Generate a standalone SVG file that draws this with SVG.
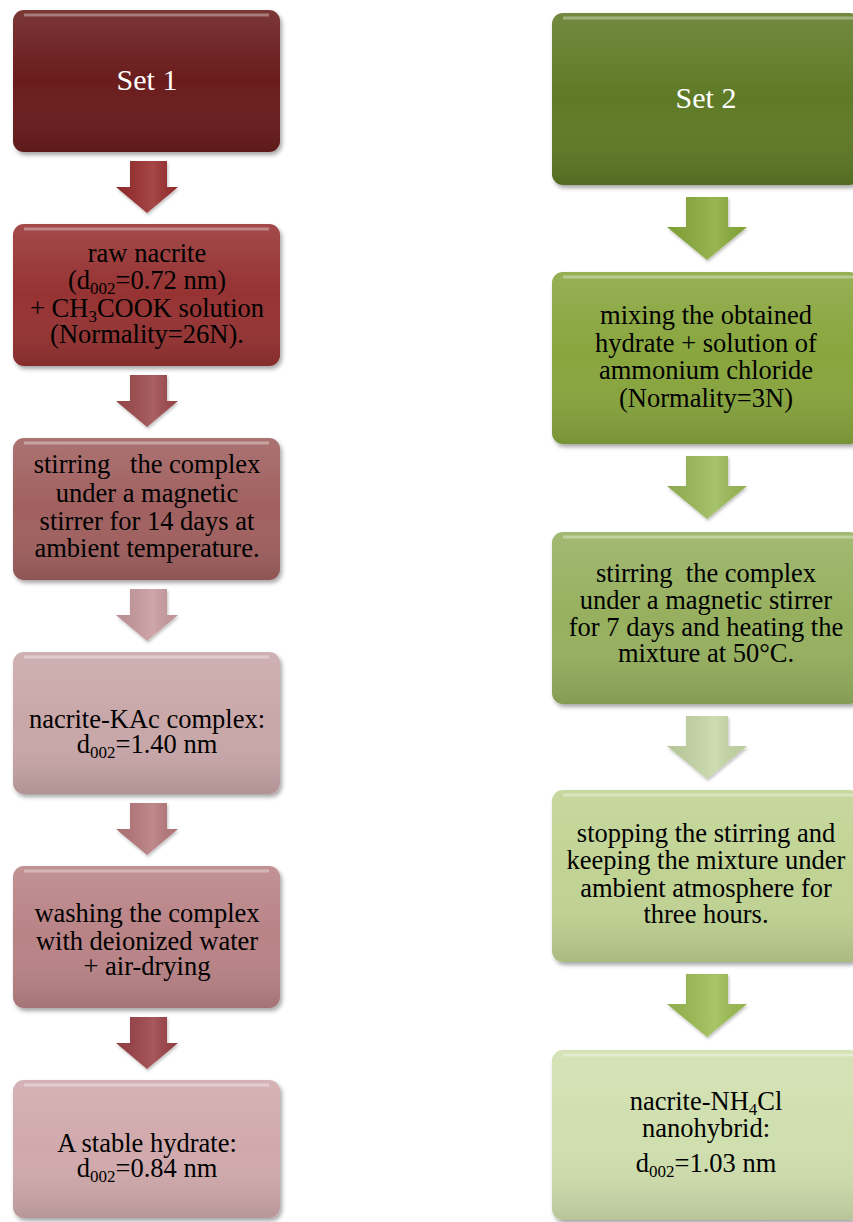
<svg xmlns="http://www.w3.org/2000/svg" width="853" height="1222" viewBox="0 0 853 1222">
<style>
  text { font-family: "Liberation Serif", "Times New Roman", serif; font-size: 26.5px; text-anchor: middle; fill: #000; }
  text.w { fill: #fff; font-size: 30px; }
  .sub { font-size: 17px; }
  .box { filter: url(#sh); }
  .gloss { fill: url(#ov); }
  .hl { fill: none; stroke: #fff; stroke-opacity: 0.35; stroke-width: 3; }
  .arr { filter: url(#sh2); }
</style>
<defs>
  <filter id="sh" x="-5%" y="-5%" width="115%" height="115%">
    <feDropShadow dx="2" dy="3" stdDeviation="2" flood-color="#000" flood-opacity="0.35"/>
  </filter>
  <filter id="sh2" x="-10%" y="-10%" width="130%" height="130%">
    <feDropShadow dx="1" dy="2" stdDeviation="1.5" flood-color="#000" flood-opacity="0.25"/>
  </filter>
  <linearGradient id="ov" x1="0" y1="0" x2="0" y2="1">
    <stop offset="0" stop-color="#fff" stop-opacity="0.12"/>
    <stop offset="0.5" stop-color="#fff" stop-opacity="0"/>
    <stop offset="1" stop-color="#000" stop-opacity="0.12"/>
  </linearGradient>
  <linearGradient id="ag" x1="0" y1="0" x2="1" y2="0">
    <stop offset="0" stop-color="#000" stop-opacity="0.08"/>
    <stop offset="0.6" stop-color="#fff" stop-opacity="0.12"/>
    <stop offset="1" stop-color="#000" stop-opacity="0.05"/>
  </linearGradient>
</defs>

<!-- Connectors -->
<g id="connectors">
  <g class="arr">
    <path d="M130,161 H167 V187 H178 L147,213 L116,187 H130 Z" fill="#9a2e2e"/>
    <path d="M130,375 H167 V401 H178 L147,427 L116,401 H130 Z" fill="#9e4c4e"/>
    <path d="M130,589 H167 V615 H178 L147,641 L116,615 H130 Z" fill="#c89b9e"/>
    <path d="M130,803 H167 V829 H178 L147,855 L116,829 H130 Z" fill="#b7797c"/>
    <path d="M130,1017 H167 V1043 H178 L147,1069 L116,1043 H130 Z" fill="#9b4246"/>
    <path d="M686,197 H728 V227 H747 L707,260 L667,227 H686 Z" fill="#8aab3a"/>
    <path d="M686,456 H728 V486 H747 L707,519 L667,486 H686 Z" fill="#9bba58"/>
    <path d="M686,716 H728 V746 H747 L707,779 L667,746 H686 Z" fill="#c6d7a6"/>
    <path d="M686,974 H728 V1004 H747 L707,1037 L667,1004 H686 Z" fill="#9dbd52"/>
  </g>
  <g fill="url(#ag)">
    <path d="M130,161 H167 V187 H178 L147,213 L116,187 H130 Z"/>
    <path d="M130,375 H167 V401 H178 L147,427 L116,401 H130 Z"/>
    <path d="M130,589 H167 V615 H178 L147,641 L116,615 H130 Z"/>
    <path d="M130,803 H167 V829 H178 L147,855 L116,829 H130 Z"/>
    <path d="M130,1017 H167 V1043 H178 L147,1069 L116,1043 H130 Z"/>
    <path d="M686,197 H728 V227 H747 L707,260 L667,227 H686 Z"/>
    <path d="M686,456 H728 V486 H747 L707,519 L667,486 H686 Z"/>
    <path d="M686,716 H728 V746 H747 L707,779 L667,746 H686 Z"/>
    <path d="M686,974 H728 V1004 H747 L707,1037 L667,1004 H686 Z"/>
  </g>
</g>

<!-- Set 1 column -->
<g id="set1">
  <rect class="box" x="13" y="10" width="267" height="142" rx="11" fill="#6a1e1e"/>
  <rect class="gloss" x="13" y="10" width="267" height="142" rx="11"/>
  <path class="hl" d="M24,15 H269"/>
  <text class="w" x="147" y="90">Set 1</text>
</g>
<g id="s1-raw">
  <rect class="box" x="13" y="224" width="267" height="142" rx="11" fill="#963030"/>
  <rect class="gloss" x="13" y="224" width="267" height="142" rx="11"/>
  <path class="hl" d="M24,229 H269"/>
  <text x="147" y="262">raw nacrite</text>
  <text x="147" y="289">(d<tspan class="sub" dy="5">002</tspan><tspan dy="-5">=0.72 nm)</tspan></text>
  <text x="147" y="317">+ CH<tspan class="sub" dy="5">3</tspan><tspan dy="-5">COOK solution</tspan></text>
  <text x="147" y="343">(Normality=26N).</text>
</g>
<g id="s1-stir">
  <rect class="box" x="13" y="438" width="267" height="142" rx="11" fill="#a0605f"/>
  <rect class="gloss" x="13" y="438" width="267" height="142" rx="11"/>
  <path class="hl" d="M24,443 H269"/>
  <text x="147" y="473" xml:space="preserve">stirring   the complex</text>
  <text x="147" y="502">under a magnetic</text>
  <text x="147" y="530">stirrer for 14 days at</text>
  <text x="147" y="557">ambient temperature.</text>
</g>
<g id="s1-kac">
  <rect class="box" x="13" y="652" width="267" height="142" rx="11" fill="#c9a7a9"/>
  <rect class="gloss" x="13" y="652" width="267" height="142" rx="11"/>
  <path class="hl" d="M24,657 H269"/>
  <text x="147" y="728">nacrite-KAc complex:</text>
  <text x="147" y="753">d<tspan class="sub" dy="5">002</tspan><tspan dy="-5">=1.40 nm</tspan></text>
</g>
<g id="s1-wash">
  <rect class="box" x="13" y="866" width="267" height="142" rx="11" fill="#b98386"/>
  <rect class="gloss" x="13" y="866" width="267" height="142" rx="11"/>
  <path class="hl" d="M24,871 H269"/>
  <text x="147" y="922">washing the complex</text>
  <text x="147" y="950">with deionized water</text>
  <text x="147" y="975">+ air-drying</text>
</g>
<g id="s1-hydrate">
  <rect class="box" x="13" y="1080" width="267" height="138" rx="11" fill="#d0a9ac"/>
  <rect class="gloss" x="13" y="1080" width="267" height="138" rx="11"/>
  <path class="hl" d="M24,1085 H269"/>
  <text x="147" y="1152">A stable hydrate:</text>
  <text x="147" y="1177">d<tspan class="sub" dy="5">002</tspan><tspan dy="-5">=0.84 nm</tspan></text>
</g>

<!-- Set 2 column -->
<g id="set2">
  <rect class="box" x="552" y="13" width="308" height="172" rx="11" fill="#5f7a27"/>
  <rect class="gloss" x="552" y="13" width="308" height="172" rx="11"/>
  <path class="hl" d="M563,18 H853"/>
  <text class="w" x="706" y="108">Set 2</text>
</g>
<g id="s2-mix">
  <rect class="box" x="552" y="272" width="308" height="172" rx="11" fill="#88a53c"/>
  <rect class="gloss" x="552" y="272" width="308" height="172" rx="11"/>
  <path class="hl" d="M563,277 H853"/>
  <text x="706" y="324">mixing the obtained</text>
  <text x="706" y="352">hydrate + solution of</text>
  <text x="706" y="379">ammonium chloride</text>
  <text x="706" y="407">(Normality=3N)</text>
</g>
<g id="s2-stir">
  <rect class="box" x="552" y="532" width="308" height="172" rx="11" fill="#96b05e"/>
  <rect class="gloss" x="552" y="532" width="308" height="172" rx="11"/>
  <path class="hl" d="M563,537 H853"/>
  <text x="706" y="582" xml:space="preserve">stirring  the complex</text>
  <text x="706" y="609">under a magnetic stirrer</text>
  <text x="706" y="636">for 7 days and heating the</text>
  <text x="706" y="662">mixture at 50°C.</text>
</g>
<g id="s2-stop">
  <rect class="box" x="552" y="790" width="308" height="172" rx="11" fill="#c0d393"/>
  <rect class="gloss" x="552" y="790" width="308" height="172" rx="11"/>
  <path class="hl" d="M563,795 H853"/>
  <text x="706" y="842">stopping the stirring and</text>
  <text x="706" y="869">keeping the mixture under</text>
  <text x="706" y="897">ambient atmosphere for</text>
  <text x="706" y="923">three hours.</text>
</g>
<g id="s2-nano">
  <rect class="box" x="552" y="1050" width="308" height="170" rx="11" fill="#d0dfae"/>
  <rect class="gloss" x="552" y="1050" width="308" height="170" rx="11"/>
  <path class="hl" d="M563,1055 H853"/>
  <text x="706" y="1110">nacrite-NH<tspan class="sub" dy="5">4</tspan><tspan dy="-5">Cl</tspan></text>
  <text x="706" y="1137">nanohybrid:</text>
  <text x="706" y="1172">d<tspan class="sub" dy="5">002</tspan><tspan dy="-5">=1.03 nm</tspan></text>
</g>
</svg>
